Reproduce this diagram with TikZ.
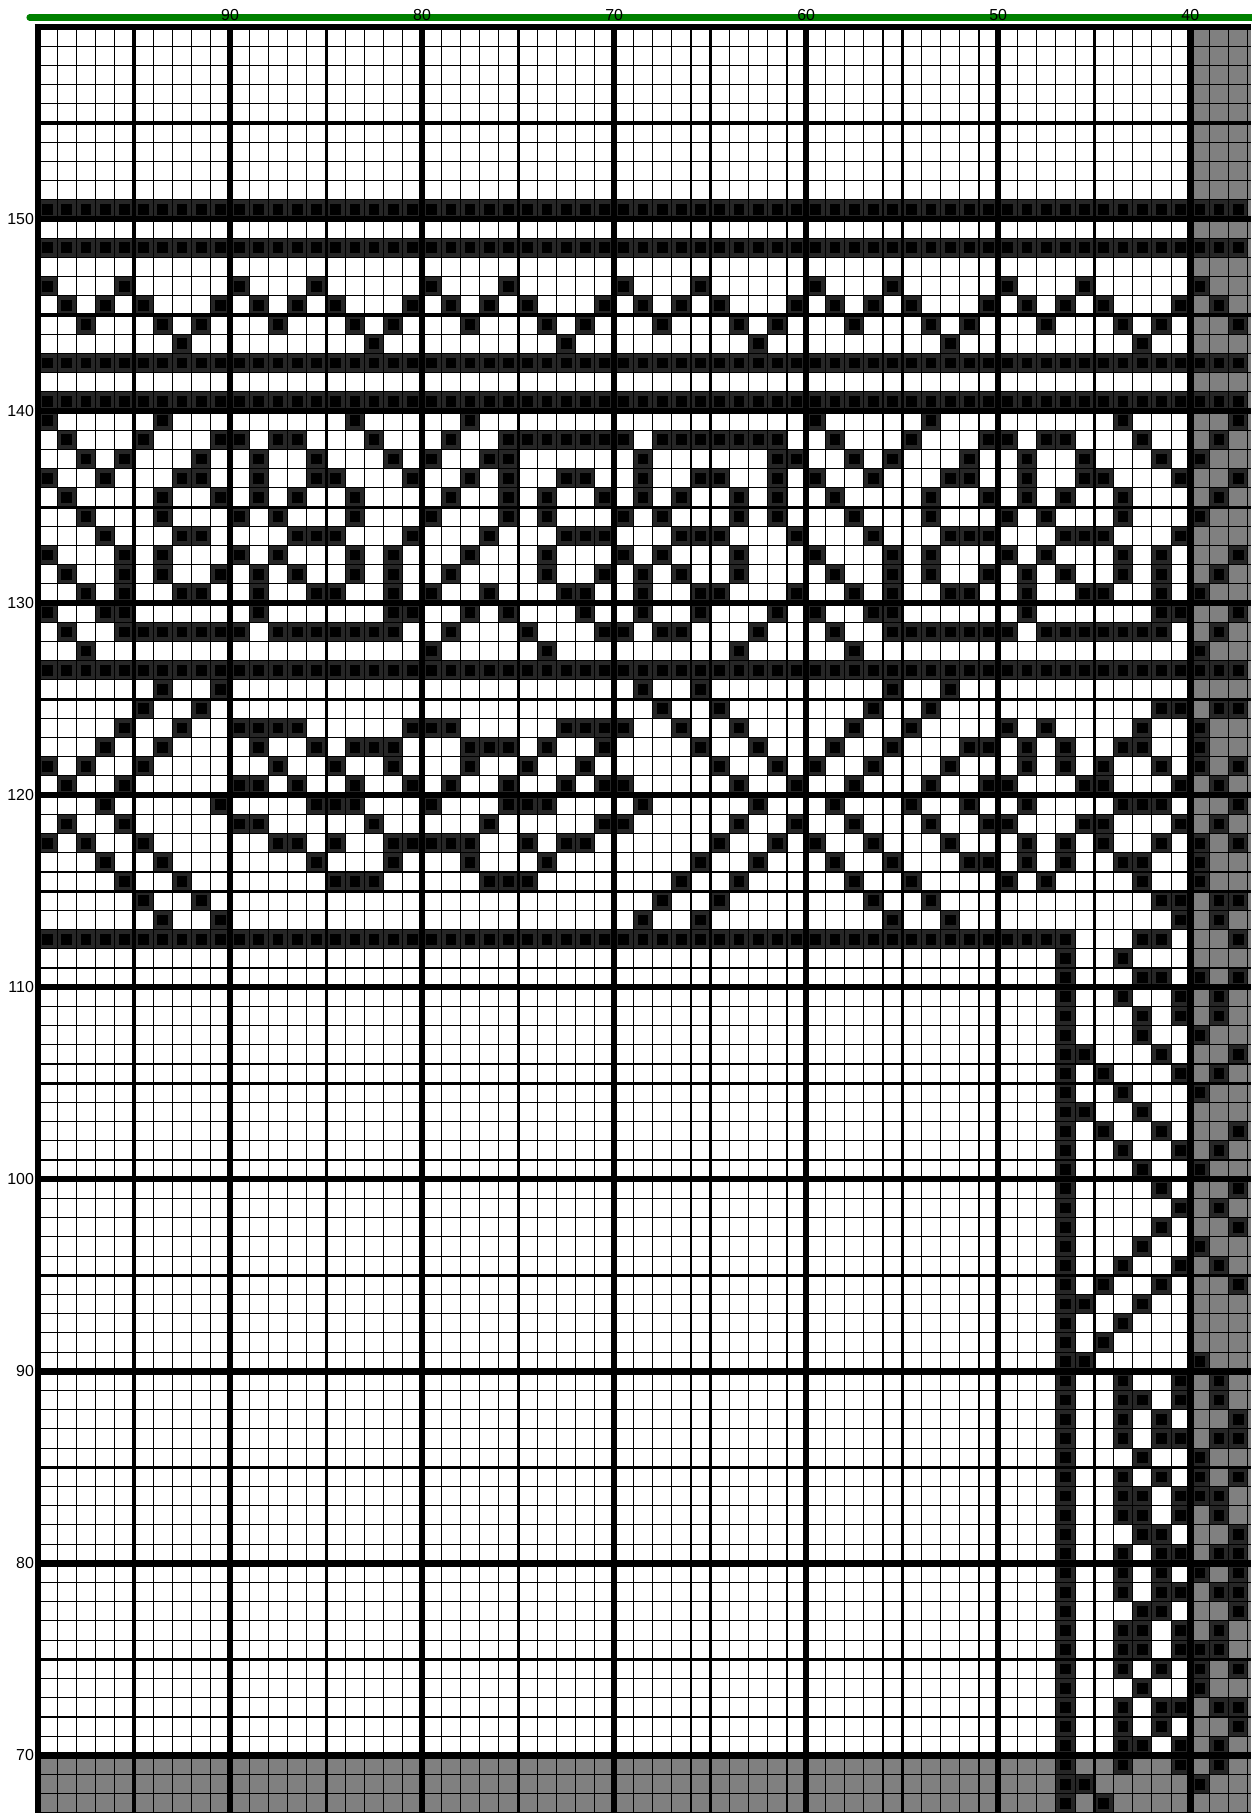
\documentclass[tikz,border=0pt]{standalone}
\usepackage{fontspec}
\setmainfont{Liberation Sans}

\tikzset{
  thin grid/.style={line width=0.8pt, black},
  five grid/.style={line width=2.3pt, black},
  ten grid/.style={line width=4.8pt, black},
  cell fill/.style={fill=black!85},
  cell core/.style={fill=black},
  off chart/.style={fill=black!50},
  numlabel/.style={font=\fontsize{11.8}{12}\selectfont, inner sep=0pt},
  greenbar/.style={line width=4.6pt, green!50!black, line cap=round},
}
% one filled chart cell: column #1 from the left, row #2 from the top
\newcommand{\stitch}[2]{%
  \fill[cell fill] (#1,92-#2) rectangle ++(1,1);
  \fill[cell core] (#1+0.22,92.22-#2) rectangle ++(0.56,0.56);}

\begin{document}
\begin{tikzpicture}[x=0.5cm,y=0.5cm]
\useasboundingbox[fill=white] (-1.979,0) rectangle (63.177,94.405);

% shaded border of the chart
\fill[off chart] (60,0) rectangle (63.177,93);
\fill[off chart] (0,0) rectangle (60,3);

% solid bands
\foreach \t in {9,11,17,19,33}
  \foreach \i in {0,...,62} {\stitch{\i}{\t}}

% zigzag band, repeats every 10 columns
\foreach \t/\offs in {13/{0,4},14/{1,3,5,9},15/{2,6,8},16/{7}}
  \foreach \k in {0,10,...,60}
    \foreach \o in \offs {
      \pgfmathtruncatemacro{\i}{\k+\o}
      \ifnum\i<63 \stitch{\i}{\t}\fi}

% motif rows
\foreach \t/\cells in {
  20/{0,6,16,22,40,46,56,62},
  21/{1,5,9,10,12,13,17,21,24,25,26,27,28,29,30,32,33,34,35,36,37,38,41,45,49,50,52,53,57,61},
  22/{2,4,8,11,14,18,20,23,24,31,38,39,42,44,48,51,54,58,60},
  23/{0,3,7,8,11,14,15,19,22,24,27,28,31,34,35,38,40,43,47,48,51,54,55,59,62},
  24/{1,6,9,11,13,16,21,24,26,29,31,33,36,38,41,46,49,51,53,56,61},
  25/{2,6,10,12,16,20,24,26,30,32,36,38,42,46,50,52,56,60},
  26/{3,7,8,13,14,15,19,23,27,28,29,33,34,35,39,43,47,48,49,53,54,55,59},
  27/{0,4,6,10,12,16,18,22,26,30,32,36,40,44,46,50,52,56,58,62},
  28/{1,4,6,9,11,13,16,18,21,26,29,31,33,36,41,44,46,49,51,53,56,58,61},
  29/{2,4,7,8,11,14,15,18,20,23,27,28,31,34,35,39,42,44,47,48,51,54,55,58,60},
  30/{0,3,4,11,18,19,22,24,28,31,34,38,40,43,44,51,58,59,62},
  31/{1,4,5,6,7,8,9,10,12,13,14,15,16,17,18,21,25,29,30,32,33,37,41,44,45,46,47,48,49,50,52,53,54,55,56,57,58,61},
  32/{2,20,26,36,42,60},
  34/{6,9,31,34,44,47},
  35/{5,8,32,35,43,46,58,59,61,62},
  36/{4,7,10,11,12,13,19,20,21,27,28,29,30,33,36,42,45,50,52,57,60},
  37/{3,6,11,14,16,17,18,22,23,24,26,29,34,37,41,44,48,49,51,53,56,57,60},
  38/{0,2,5,12,15,18,22,25,28,35,38,40,43,47,51,53,55,58,60,62},
  39/{1,4,10,11,13,16,19,21,24,27,29,30,36,39,42,46,49,50,54,55,59,61},
  40/{3,9,14,15,16,20,24,25,26,31,37,41,45,48,51,56,57,58,62},
  41/{1,4,10,11,17,23,29,30,36,39,42,46,49,50,54,55,59,61},
  42/{0,2,5,12,13,15,18,19,20,21,22,25,27,28,35,38,40,43,47,51,53,55,58,60,62},
  43/{3,6,14,18,22,26,34,37,41,44,48,49,51,53,56,57,60},
  44/{4,7,15,16,17,23,24,25,33,36,42,45,50,52,57,60},
  45/{5,8,32,35,43,46,58,59,61,62},
  46/{6,9,31,34,44,47,59,61},
  47/{0,...,53,57,58,62}}
  \foreach \i in \cells {\stitch{\i}{\t}}

% side border
\foreach \t/\cells in {
  48/{53,56}, 49/{53,57,58,60,62}, 50/{53,56,59,61}, 51/{53,57,59,61},
  52/{53,57,60}, 53/{53,54,58,62}, 54/{53,55,59,61}, 55/{53,56,60},
  56/{53,54,57}, 57/{53,55,58,62}, 58/{53,56,59,61}, 59/{53,57,60},
  60/{53,58,62}, 61/{53,59,61}, 62/{53,58,62}, 63/{53,57,60},
  64/{53,56,59,61}, 65/{53,55,58,62}, 66/{53,54,57}, 67/{53,56},
  68/{53,55}, 69/{53,54,60}, 70/{53,56,59,61}, 71/{53,56,57,59,61},
  72/{53,56,58,62}, 73/{53,56,58,59,61,62}, 74/{53,57,60},
  75/{53,56,58,60,62}, 76/{53,56,57,59,60,61}, 77/{53,56,57,59,61},
  78/{53,57,58,62}, 79/{53,56,58,59,61,62}, 80/{53,56,58,60,62},
  81/{53,56,58,59,61,62}, 82/{53,57,58,62}, 83/{53,56,57,59,61},
  84/{53,56,57,59,60,61}, 85/{53,56,58,60,62}, 86/{53,57,60},
  87/{53,56,58,59,61,62}, 88/{53,56,58,62}, 89/{53,56,57,59,61},
  90/{53,56,59,61}, 91/{53,54,60}, 92/{53,55}}
  \foreach \i in \cells {\stitch{\i}{\t}}

% grid
\foreach \x in {0,...,63} \draw[thin grid] (\x,0) -- (\x,93);
\foreach \y in {0,...,93} \draw[thin grid] (0,\y) -- (63.177,\y);
\foreach \x in {5,15,...,55} \draw[five grid] (\x,0) -- (\x,93);
\foreach \y in {8,18,...,88} \draw[five grid] (0,\y) -- (63.177,\y);
\foreach \x in {0,10,...,60} \draw[ten grid] (\x,0) -- (\x,93.17);
\foreach \y in {3,13,...,93} \draw[ten grid] (-0.17,\y) -- (63.177,\y);

% numbering
\draw[greenbar] (-0.44,93.49) -- (63.4,93.49);
\foreach \c in {90,80,...,40}
  \node[numlabel] (col\c) at ({100-\c},93.61) {\c};
\foreach \r in {150,140,...,70}
  \node[numlabel, anchor=east] (row\r) at (-0.2,{\r-67}) {\r};
\end{tikzpicture}
\end{document}
